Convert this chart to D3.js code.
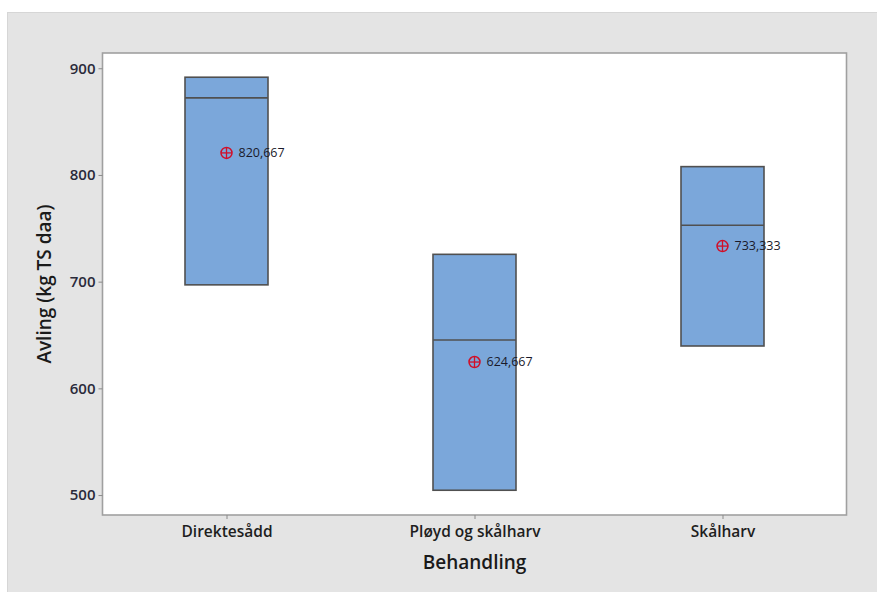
<!DOCTYPE html>
<html><head><meta charset="utf-8">
<script src="https://cdn.jsdelivr.net/npm/d3@7"></script>
<style>body{margin:0;background:#fff}svg{display:block}</style>
</head><body>
<svg id="c" width="877" height="592"></svg>
<script>
const categories = ["Direktesådd", "Pløyd og skålharv", "Skålharv"];
const q1 = [697, 504.5, 639.7];
const medians = [872.2, 645.3, 752.8];
const q3 = [891.6, 725.6, 807.8];
const means = [820.667, 624.667, 733.333];
const meanLabels = ["820,667", "624,667", "733,333"];
const yTicks = [500, 600, 700, 800, 900];

const svg = d3.select("#c");
const L = 102.5, R = 846.5, T = 53, B = 515;
const font = "'Open Sans','Noto Sans',sans-serif";

svg.append("rect").attr("x", 7).attr("y", 12).attr("width", 870).attr("height", 580).attr("fill", "#e4e4e4");
svg.append("line").attr("x1", 7.5).attr("x2", 7.5).attr("y1", 12).attr("y2", 592).attr("stroke", "#d6d6d6");
svg.append("line").attr("x1", 7).attr("x2", 877).attr("y1", 12.5).attr("y2", 12.5).attr("stroke", "#d6d6d6");

const y = d3.scaleLinear().domain([481.3, 914.3]).range([B, T]);
const x = d3.scalePoint().domain(categories).range([L, R]).padding(0.5);

svg.append("rect").attr("x", L).attr("y", T).attr("width", R - L).attr("height", B - T)
  .attr("fill", "#fff").attr("stroke", "#a0a0a0").attr("stroke-width", 1.6);

const yAxis = svg.append("g").attr("transform", `translate(${L},0)`)
  .call(d3.axisLeft(y).tickValues(yTicks).tickSize(4).tickPadding(3));
yAxis.select(".domain").remove();
yAxis.selectAll("line").attr("stroke", "#8a8a8a");
yAxis.selectAll("text").attr("font-family", font).attr("font-size", 15).attr("font-weight", 600).attr("fill", "#2a2a3a");

const xAxis = svg.append("g").attr("transform", `translate(0,${B})`)
  .call(d3.axisBottom(x).tickSize(4).tickPadding(7));
xAxis.select(".domain").remove();
xAxis.selectAll("line").attr("stroke", "#8a8a8a");
xAxis.selectAll("text").attr("font-family", font).attr("font-size", 15.5).attr("font-weight", 600).attr("fill", "#1e1e1e");

const bw = 83;
const g = svg.append("g");
categories.forEach((c, i) => {
  const cx = x(c);
  g.append("rect").attr("x", cx - bw / 2).attr("y", y(q3[i])).attr("width", bw)
    .attr("height", y(q1[i]) - y(q3[i])).attr("fill", "#7ba7da").attr("stroke", "#505050").attr("stroke-width", 1.6);
  g.append("line").attr("x1", cx - bw / 2).attr("x2", cx + bw / 2).attr("y1", y(medians[i])).attr("y2", y(medians[i]))
    .attr("stroke", "#505050").attr("stroke-width", 1.6);
  const my = y(means[i]);
  g.append("circle").attr("cx", cx).attr("cy", my).attr("r", 5.5).attr("fill", "none").attr("stroke", "#d0102a").attr("stroke-width", 1.5);
  g.append("line").attr("x1", cx - 5.5).attr("x2", cx + 5.5).attr("y1", my).attr("y2", my).attr("stroke", "#d0102a").attr("stroke-width", 1.3);
  g.append("line").attr("x1", cx).attr("x2", cx).attr("y1", my - 5.5).attr("y2", my + 5.5).attr("stroke", "#d0102a").attr("stroke-width", 1.3);
  g.append("text").attr("x", cx + 12).attr("y", my).attr("dy", "0.35em").attr("font-family", font)
    .attr("font-size", 12.5).attr("fill", "#1a1a2a").text(meanLabels[i]);
});

svg.append("text").attr("x", (L + R) / 2).attr("y", 569).attr("text-anchor", "middle")
  .attr("font-family", font).attr("font-size", 19).attr("font-weight", 600).attr("fill", "#1a1a1a").text("Behandling");
svg.append("text").attr("transform", `translate(51,${(T + B) / 2}) rotate(-90)`).attr("text-anchor", "middle")
  .attr("font-family", font).attr("font-size", 19).attr("font-weight", 600).attr("fill", "#1a1a1a").text("Avling (kg TS daa)");
</script>
</body></html>
